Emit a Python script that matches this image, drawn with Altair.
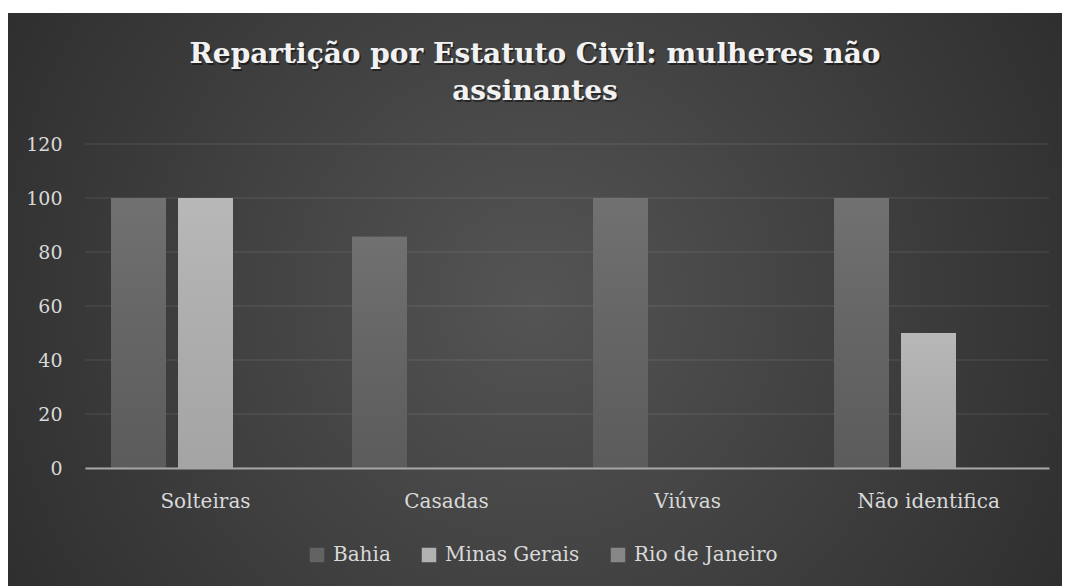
import altair as alt
import pandas as pd

# ---- data ----
categories = ["Solteiras", "Casadas", "Viúvas", "Não identifica"]
series = ["Bahia", "Minas Gerais", "Rio de Janeiro"]
bahia = [100, 85.7, 100, 100]
minas = [100, 0, 0, 50]
rio = [0, 0, 0, 0]
y_ticks = [0, 20, 40, 60, 80, 100, 120]
title_lines = ["Repartição por Estatuto Civil: mulheres não", "assinantes"]
head_text = "Repartição por Estatuto Civil: mulheres não assinantes"

rows = []
for s, vals in zip(series, [bahia, minas, rio]):
    for c, v in zip(categories, vals):
        rows.append({"cat": c, "serie": s, "valor": v})
df = pd.DataFrame(rows)
grid_df = pd.DataFrame({"valor": y_ticks})
one = pd.DataFrame({"k": [0]})

FONT = "DejaVu Serif"
colors = ["#636363", "#b1b1b1", "#878787"]

x_enc = alt.X("cat:N", sort=categories, title=None,
              scale=alt.Scale(paddingInner=0, paddingOuter=0),
              axis=alt.Axis(labelAngle=0, labelAlign="center", ticks=False,
                            domain=True, domainColor="#a6a6a6", domainWidth=2,
                            labelColor="#d9d9d9", labelFont=FONT,
                            labelFontSize=20, labelPadding=23, grid=False,
                            zindex=1))
xo_enc = alt.XOffset("serie:N", sort=series,
                     scale=alt.Scale(domain=series, paddingInner=0.179,
                                     paddingOuter=0.388))
y_enc = alt.Y("valor:Q", title=None,
              scale=alt.Scale(domain=[0, 120], nice=False),
              axis=alt.Axis(values=y_ticks, domain=False, ticks=False,
                            labelColor="#d9d9d9", labelFont=FONT,
                            labelFontSize=19, labelPadding=23, grid=False,
                            labelAlign="right", zindex=1))

bg = alt.Chart(one).mark_rect(
    fill={"gradient": "radial", "x1": 0.5, "y1": 0.5, "r1": 0,
          "x2": 0.5, "y2": 0.5, "r2": 0.75,
          "stops": [{"offset": 0, "color": "#545454"},
                    {"offset": 1, "color": "#232323"}]}
).encode(x=alt.value(-77), x2=alt.value(977), y=alt.value(-131), y2=alt.value(442))

grid = alt.Chart(grid_df).mark_rule(color="#ffffff", opacity=0.08, strokeWidth=1.5).encode(
    y=y_enc
)

shadow = alt.Chart(df).transform_filter("datum.valor > 0").mark_bar(
    fill="#000000", opacity=0.22, xOffset=5
).encode(x=x_enc, xOffset=xo_enc, y=y_enc)

bars = alt.Chart(df).mark_bar().encode(
    x=x_enc, xOffset=xo_enc, y=y_enc,
    color=alt.Color("serie:N", sort=series,
                    scale=alt.Scale(domain=series, range=colors),
                    legend=alt.Legend(title=None, orient="none",
                                      direction="horizontal",
                                      legendX=222, legendY=401,
                                      symbolType="square", symbolSize=210,
                                      symbolStrokeWidth=0, labelOffset=6,
                                      columnPadding=28, labelFont=FONT,
                                      labelFontSize=20, labelColor="#d9d9d9",
                                      padding=0))
)

overlay = alt.Chart(df).mark_bar(
    fill={"gradient": "linear", "x1": 0, "y1": 0, "x2": 0, "y2": 1,
          "stops": [{"offset": 0, "color": "rgba(255,255,255,0.09)"},
                    {"offset": 1, "color": "rgba(0,0,0,0.07)"}]}
).encode(x=x_enc, xOffset=xo_enc, y=y_enc)

head = alt.Chart(one).mark_text(
    text=head_text, font=FONT, fontSize=27.5, color="#000000",
    align="left", baseline="alphabetic"
).encode(x=alt.value(175), y=alt.value(-155.5))

title_shadow = alt.Chart(one).mark_text(
    text=title_lines, font=FONT, fontSize=28, fontWeight="bold",
    color="#000000", opacity=0.45, align="center", baseline="alphabetic",
    lineHeight=37, dx=1.5, dy=2
).encode(x=alt.value(450), y=alt.value(-81))

title = alt.Chart(one).mark_text(
    text=title_lines, font=FONT, fontSize=28, fontWeight="bold",
    color="#f2f2f2", align="center", baseline="alphabetic", lineHeight=37
).encode(x=alt.value(450), y=alt.value(-81))

chart = alt.layer(bg, grid, shadow, bars, overlay, head, title_shadow, title).properties(
    width=964, height=324,
    padding={"left": 85, "top": 144, "right": 20, "bottom": 118},
    autosize=alt.AutoSizeParams(type="none"),
    background="#ffffff",
).configure_view(stroke=None)

chart.save("out.html", embed_options={"renderer": "svg", "actions": False})
